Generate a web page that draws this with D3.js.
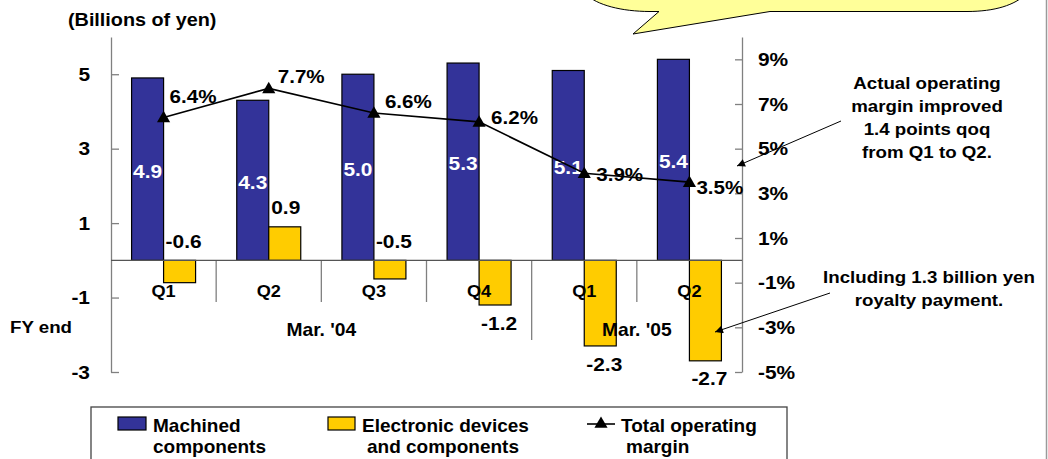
<!DOCTYPE html>
<html>
<head>
<meta charset="utf-8">
<script src="https://cdn.jsdelivr.net/npm/d3@7"></script>
<style>
  html, body { margin: 0; padding: 0; background: #fff; }
  svg { display: block; }
  text { font-family: "Liberation Sans", Arial, sans-serif; font-weight: bold; fill: #000; }
</style>
</head>
<body>
<svg id="chart" width="1048" height="459"></svg>
<script>
// ---------------- data ----------------
const categories = ["Q1", "Q2", "Q3", "Q4", "Q1", "Q2"];
const fyGroups = ["Mar. '04", "Mar. '05"];
const fyGroupSizes = [4, 2];
const machined = [4.9, 4.3, 5.0, 5.3, 5.1, 5.4];
const electronic = [-0.6, 0.9, -0.5, -1.2, -2.3, -2.7];
const operatingMargin = [6.4, 7.7, 6.6, 6.2, 3.9, 3.5];
const leftTicks = [-3, -1, 1, 3, 5];
const rightTicks = [-5, -3, -1, 1, 3, 5, 7, 9];
const seriesNames = [["Machined", "components"], ["Electronic devices", "and components"], ["Total operating", "margin"]];
const note1 = ["Actual operating", "margin improved", "1.4 points qoq", "from Q1 to Q2."];
const note2 = ["Including 1.3 billion yen", "royalty payment."];
const unitLabel = "(Billions of yen)";
const fyLabel = "FY end";

// ---------------- layout ----------------
(function () {
const BLUE = "#333399", YELLOW = "#FFCC00", GRID = "#808080";
const SX = 1.1;
const svg = d3.select("#chart");
const pL = 111, pR = 742, pT = 37, pB = 372;

const x = d3.scaleBand().domain(d3.range(categories.length)).range([pL, pR]);
const bw = x.bandwidth();
const inner = d3.scaleBand().domain(["m", "e"]).range([bw / 2 - 32, bw / 2 + 32]);
const yL = d3.scaleLinear().domain([-3, 6]).range([pB, pT]);
const yR = d3.scaleLinear().domain([-5, 10]).range([pB, pT]);

// text helper: widened text placed at (x, y), vertically centred
function txt(parent, xv, yv, s, size, anchor) {
  return parent.append("text")
    .attr("transform", `translate(${xv},${yv}) scale(${SX},1)`)
    .attr("dy", "0.35em").attr("text-anchor", anchor || "start")
    .style("font-size", size + "px").text(s);
}

// callout bubble (top, partially outside the frame)
svg.append("path")
  .attr("d", "M586,-6 C596,5 622,11.5 650,11.5 L659,11.5 L633,34 L770,11.5 L967,11.5 C995,11.5 1015,5 1026,-6 Z")
  .attr("fill", "#FFFF99").attr("stroke", "#000").attr("stroke-width", 1);

// right frame line
svg.append("line").attr("x1", 1046.5).attr("x2", 1046.5).attr("y1", 0).attr("y2", 459)
  .attr("stroke", "#9a9a9a").attr("stroke-width", 1.5);

// unit label
txt(svg, 68, 20, unitLabel, 18);

// axes
const axL = svg.append("g").attr("transform", `translate(${pL},0)`)
  .call(d3.axisLeft(yL).tickValues(leftTicks).tickSize(-8).tickSizeOuter(0).tickPadding(21).tickFormat(d => String(d)));
const axR = svg.append("g").attr("transform", `translate(${pR},0)`)
  .call(d3.axisRight(yR).tickValues(rightTicks).tickSize(-7).tickSizeOuter(0).tickPadding(16).tickFormat(d => String(d) + "%"));
[axL, axR].forEach(a => {
  a.select(".domain").attr("stroke", GRID).attr("stroke-width", 1.3);
  a.selectAll(".tick line").attr("stroke", GRID).attr("stroke-width", 1.3);
  a.selectAll(".tick text")
    .attr("x", function () { return +this.getAttribute("x") / SX; })
    .attr("transform", `scale(${SX},1)`)
    .style("font-size", "19px").style("font-family", "'Liberation Sans', Arial, sans-serif")
    .style("font-weight", "bold").attr("fill", "#000");
});

// category separators
let cum = 0;
const groupBounds = new Set();
fyGroupSizes.forEach(s => { cum += s; groupBounds.add(cum); });
for (let i = 1; i < categories.length; i++) {
  const xx = x(i);
  svg.append("line").attr("x1", xx).attr("x2", xx)
    .attr("y1", yL(0)).attr("y2", groupBounds.has(i) ? 340 : 302)
    .attr("stroke", GRID).attr("stroke-width", 1.3);
}

// bars
const g = svg.append("g");
g.selectAll(".bm").data(machined).join("rect")
  .attr("x", (d, i) => x(i) + inner("m")).attr("width", inner.bandwidth())
  .attr("y", d => yL(Math.max(0, d))).attr("height", d => Math.abs(yL(d) - yL(0)))
  .attr("fill", BLUE).attr("stroke", "#000").attr("stroke-width", 1.2);
g.selectAll(".be").data(electronic).join("rect")
  .attr("x", (d, i) => x(i) + inner("e")).attr("width", inner.bandwidth())
  .attr("y", d => yL(Math.max(0, d))).attr("height", d => Math.abs(yL(d) - yL(0)))
  .attr("fill", YELLOW).attr("stroke", "#000").attr("stroke-width", 1.2);

// zero line
svg.append("line").attr("x1", pL).attr("x2", pR).attr("y1", yL(0)).attr("y2", yL(0))
  .attr("stroke", "#555").attr("stroke-width", 1.3);

// category labels
categories.forEach((c, i) => txt(svg, x(i) + bw / 2, 291, c, 16.5, "middle"));

// group labels
cum = 0;
fyGroups.forEach((lab, k) => {
  const a = x(cum), b = x(cum + fyGroupSizes[k] - 1) + bw;
  cum += fyGroupSizes[k];
  txt(svg, (a + b) / 2, 330, lab, 17.5, "middle");
});
txt(svg, 10, 327, fyLabel, 17);

// bar value labels
machined.forEach((d, i) => txt(svg, x(i) + inner("m") + inner.bandwidth() / 2, (yL(d) + yL(0)) / 2 + 2,
  d.toFixed(1), 19, "middle").style("fill", "#fff"));
electronic.forEach((d, i) => txt(svg, x(i) + inner("e") + inner.bandwidth() / 2 + (d < 0 ? 4 : 1),
  d > -1 ? yL(Math.max(0, d)) - 19 : yL(d) + 18, d.toFixed(1), 19, "middle"));

// margin line
const px = i => x(i) + bw / 2;
svg.append("path").datum(operatingMargin)
  .attr("d", d3.line().x((d, i) => px(i)).y(d => yR(d)))
  .attr("fill", "none").attr("stroke", "#000").attr("stroke-width", 1.6);
svg.selectAll(".mk").data(operatingMargin).join("path")
  .attr("d", d3.symbol(d3.symbolTriangle, 75))
  .attr("transform", (d, i) => `translate(${px(i)},${yR(d) + 1})`)
  .attr("fill", "#000");
const nudge = [[6, -21], [9, -12], [11, -11], [12, -4], [12, 1], [7, 5]];
operatingMargin.forEach((d, i) => txt(svg, px(i) + nudge[i][0], yR(d) + nudge[i][1], d.toFixed(1) + "%", 18.7));

// annotations
const defs = svg.append("defs");
defs.append("marker").attr("id", "ah").attr("viewBox", "0 0 10 10").attr("refX", 10).attr("refY", 5)
  .attr("markerWidth", 9).attr("markerHeight", 8).attr("markerUnits", "userSpaceOnUse").attr("orient", "auto")
  .append("path").attr("d", "M0,0 L10,5 L0,10 Z").attr("fill", "#000");
svg.append("line").attr("x1", 841).attr("y1", 121).attr("x2", 737).attr("y2", 166)
  .attr("stroke", "#000").attr("stroke-width", 1).attr("marker-end", "url(#ah)");
svg.append("line").attr("x1", 830).attr("y1", 293).attr("x2", 715).attr("y2", 332)
  .attr("stroke", "#000").attr("stroke-width", 1).attr("marker-end", "url(#ah)");
note1.forEach((t, k) => txt(svg, 927, 83 + 23 * k, t, 17, "middle"));
note2.forEach((t, k) => txt(svg, 929, 277 + 23 * k, t, 17, "middle"));

// legend
const lg = svg.append("g");
lg.append("rect").attr("x", 91).attr("y", 407).attr("width", 696).attr("height", 70)
  .attr("fill", "#fff").attr("stroke", "#444").attr("stroke-width", 1.3);
lg.append("rect").attr("x", 118).attr("y", 417).attr("width", 28).attr("height", 13)
  .attr("fill", BLUE).attr("stroke", "#000").attr("stroke-width", 1.2);
lg.append("rect").attr("x", 328).attr("y", 417).attr("width", 27).attr("height", 13)
  .attr("fill", YELLOW).attr("stroke", "#000").attr("stroke-width", 1.2);
lg.append("line").attr("x1", 587).attr("x2", 615).attr("y1", 424).attr("y2", 424)
  .attr("stroke", "#000").attr("stroke-width", 1.6);
lg.append("path").attr("d", d3.symbol(d3.symbolTriangle, 75)).attr("transform", "translate(601,424)").attr("fill", "#000");
const lx = [[153, 153], [362, 367], [621, 626]];
seriesNames.forEach((lines, k) => {
  lines.forEach((t, j) => lg.append("text").attr("x", lx[k][j]).attr("y", 432 + 21 * j)
    .style("font-size", "19px").text(t));
});
})();
</script>
</body>
</html>
